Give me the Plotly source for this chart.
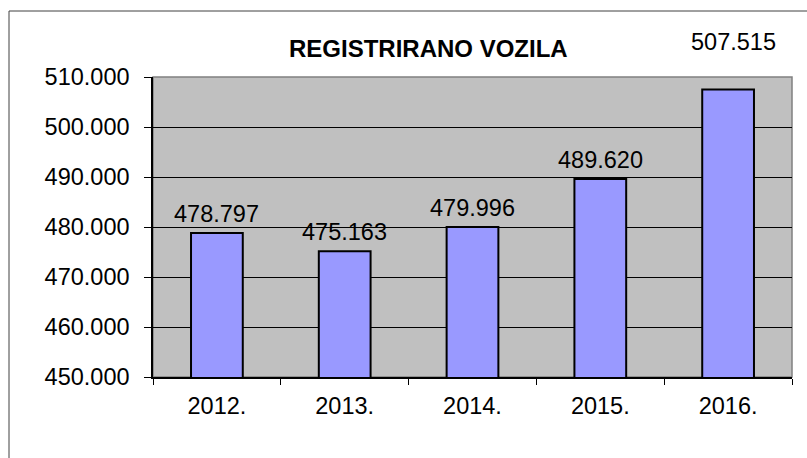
import plotly.graph_objects as go

categories = ["2012.", "2013.", "2014.", "2015.", "2016."]
values = [478797, 475163, 479996, 489620, 507515]
labels = ["478.797", "475.163", "479.996", "489.620", "507.515"]
tick_vals = [450000, 460000, 470000, 480000, 490000, 500000, 510000]
tick_text = ["450.000", "460.000", "470.000", "480.000", "490.000", "500.000", "510.000"]
title_text = "REGISTRIRANO VOZILA"

W, H = 807, 458
L, R, T, B = 153, 15, 77, 81
pw, ph = W - L - R, H - T - B
FONT = "Liberation Sans, Arial, sans-serif"
FS = 23.5

fig = go.Figure()
fig.add_trace(go.Bar(
    x=categories, y=values,
    marker=dict(color="#9999FF", line=dict(color="black", width=2)),
    width=0.405,
))

annotations = []
for i, (v, t) in enumerate(zip(values, labels)):
    if i == len(values) - 1:
        annotations.append(dict(x=i, y=1 + (T - 42) / ph, xref="x", yref="paper",
                                text=t, showarrow=False, xshift=5, yanchor="middle",
                                font=dict(size=FS, color="black", family=FONT)))
    else:
        annotations.append(dict(x=i, y=v, xref="x", yref="y", text=t, showarrow=False,
                                yanchor="bottom", yshift=4,
                                font=dict(size=FS, color="black", family=FONT)))
annotations.append(dict(x=(428 - L) / pw, y=1 + (T - 48) / ph, xref="paper", yref="paper",
                        text="<b>" + title_text + "</b>", showarrow=False, yanchor="middle",
                        font=dict(size=24, color="black", family=FONT)))

shapes = [
    dict(type="rect", xref="paper", yref="paper", x0=0, x1=1, y0=0, y1=1,
         line=dict(color="#808080", width=1.5), layer="below"),
    dict(type="rect", xref="paper", yref="paper",
         x0=(9 - L) / pw, x1=1.2, y0=-0.6, y1=1 + (T - 11) / ph,
         line=dict(color="#404040", width=1), layer="below"),
]

fig.update_layout(
    width=W, height=H,
    margin=dict(l=L, r=R, t=T, b=B, pad=0, autoexpand=False),
    paper_bgcolor="white", plot_bgcolor="#C0C0C0",
    showlegend=False,
    font=dict(family=FONT, size=FS, color="black"),
    annotations=annotations, shapes=shapes,
)
fig.update_yaxes(
    range=[450000, 510000], tickvals=tick_vals, ticktext=tick_text,
    showgrid=True, gridcolor="black", gridwidth=1,
    showline=True, linecolor="black", linewidth=1.5,
    ticks="outside", ticklen=7, tickcolor="black", ticklabelstandoff=10,
    zeroline=False, tickfont=dict(size=FS),
)
fig.update_xaxes(
    type="category", tickangle=0, range=[-0.5, len(categories) - 0.5],
    showline=True, linecolor="black", linewidth=1.5,
    ticks="outside", ticklen=6, tickcolor="black", tickson="boundaries",
    showgrid=False, tickfont=dict(size=FS), ticklabelstandoff=7,
)
fig.write_html("out.html", config={"displayModeBar": False},
               post_script="document.body.style.margin='0';document.body.style.overflow='hidden';")
